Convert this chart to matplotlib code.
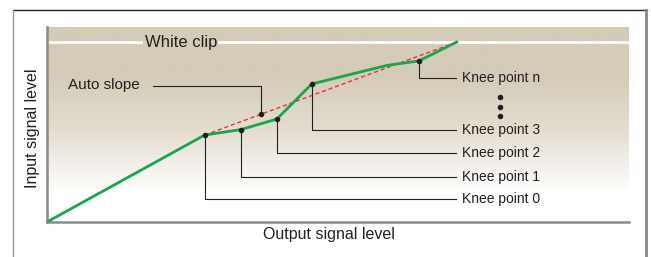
import numpy as np
import matplotlib.pyplot as plt
from matplotlib.colors import LinearSegmentedColormap
from matplotlib.lines import Line2D

plt.rcParams['font.family'] = ['Liberation Sans', 'DejaVu Sans']

# knee curve (output level, input level), both on a 0-100 scale
curve_x = [0, 27.1, 33.3, 39.5, 45.5, 58.4, 63.9, 70.4]
curve_y = [0, 44.6, 47.4, 52.8, 70.8, 80.3, 82.6, 92.3]
# index of each labelled knee point in the curve
knee_idx = [1, 2, 3, 4, 6]
knee_names = ['Knee point 0', 'Knee point 1', 'Knee point 2', 'Knee point 3', 'Knee point n']
knee_label_y = [11.6, 23.2, 35.2, 47.2, 73.7]
white_clip = 92.3
auto_slope_at = 36.8

TAN = '#d4cbb8'
GREEN = '#14a84b'
RED = '#e8333a'
INK = '#231f20'

fig = plt.figure(figsize=(6.51, 2.57), dpi=100)
W, H = 651, 257
ax = fig.add_axes([47 / W, (H - 222) / H, (629 - 47) / W, (222 - 27) / H])
ax.set_xlim(0, 100)
ax.set_ylim(0, 100)

# background: flat tan at the top fading to white toward the bottom
t = np.linspace(0, 1, 200)
shade = np.clip((t - 0.25) / 0.6, 0, 1)[:, None]
cmap = LinearSegmentedColormap.from_list('bg', [TAN, '#e6dfd2', '#ffffff'])
ax.imshow(shade, cmap=cmap, extent=[0, 100, 0, 100], aspect='auto',
          origin='upper', vmin=0, vmax=1, zorder=0)

# white clip line
ax.axhline(white_clip, color='white', lw=2, zorder=1)
ax.text(23.0, white_clip, 'White clip', fontsize=12, color=INK,
        ha='center', va='center', zorder=2,
        bbox=dict(facecolor=TAN, edgecolor='none', pad=1))

# auto slope (straight line from knee 0 to the clip point)
x0, y0 = curve_x[1], curve_y[1]
x1, y1 = curve_x[-1], curve_y[-1]
ax.plot([x0, x1], [y0, y1], color=RED, lw=1, dashes=(3, 2), zorder=3)
ay = y0 + (y1 - y0) * (auto_slope_at - x0) / (x1 - x0)
ax.plot([18.2, auto_slope_at, auto_slope_at], [69.7, 69.7, ay], color=INK, lw=0.8, zorder=3)
ax.plot(auto_slope_at, ay, 'o', color=INK, ms=3, zorder=5)
ax.text(16.0, 70.5, 'Auto slope', fontsize=11, color=INK, ha='right', va='center')

# knee curve
ax.plot(curve_x, curve_y, color=GREEN, lw=2, zorder=4, solid_joinstyle='miter')

# knee point call-outs
label_x = 70.3
for i, name, ly in zip(knee_idx, knee_names, knee_label_y):
    kx, ky = curve_x[i], curve_y[i]
    ax.plot([kx, kx, label_x], [ky, ly, ly], color=INK, lw=0.8, zorder=3)
    ax.plot(kx, ky, 'o', color=INK, ms=3, zorder=5)
    ax.text(label_x + 1.0, ly, name, fontsize=10, color=INK, ha='left', va='center')

# vertical ellipsis between knee 3 and knee n
ax.plot([77.8, 77.8, 77.8], [63.9, 59.1, 54.2], 'o', color=INK, ms=3)

for side in ['top', 'right']:
    ax.spines[side].set_visible(False)
for side in ['left', 'bottom']:
    ax.spines[side].set_color('#8a8a8a')
    ax.spines[side].set_linewidth(1.8)
ax.set_xticks([])
ax.set_yticks([])

ax.set_xlabel('Output signal level', fontsize=11.5, color=INK)
ax.xaxis.set_label_coords(0.485, -0.025)
ax.set_ylabel('Input signal level', fontsize=11.5, color=INK)
ax.yaxis.set_label_coords(-0.012, 0.48)

# outer frame (top, left, right), in figure pixels
fig.add_artist(Line2D([13 / W, 647 / W], [(H - 10) / H] * 2, color='#222222', lw=1))
fig.add_artist(Line2D([13 / W] * 2, [(H - 10) / H, 0], color='#999999', lw=1))
fig.add_artist(Line2D([646 / W] * 2, [(H - 10) / H, 0], color='#888888', lw=2))

fig.savefig('out.png', dpi=100)
